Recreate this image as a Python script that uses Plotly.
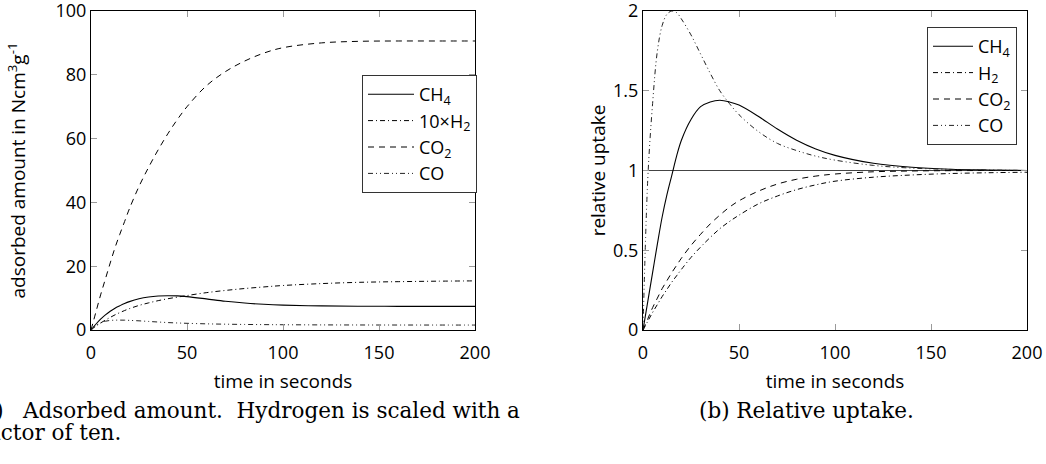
import plotly.graph_objects as go

# time grid in seconds
t = [0, 2.5, 5, 7.5, 10, 12.5, 15, 17.5, 20, 25, 30, 35, 40, 45, 50,
     60, 70, 80, 90, 100, 120, 140, 160, 180, 200]

# adsorbed amount in Ncm^3/g
ch4_amount = [0, 1.8, 3.4, 4.75, 5.9, 6.85, 7.6, 8.3, 8.9, 9.8, 10.35, 10.65, 10.75, 10.7, 10.45,
              9.75, 9.0, 8.45, 8.05, 7.8, 7.55, 7.45, 7.42, 7.4, 7.4]
h2x10_amount = [0, 1.2, 2.2, 3.1, 3.95, 4.75, 5.45, 6.1, 6.7, 7.7, 8.5, 9.2, 9.8, 10.3, 10.8,
                11.7, 12.4, 13.0, 13.5, 13.95, 14.55, 14.95, 15.15, 15.3, 15.4]
co2_amount = [0, 5.5, 11, 16, 21, 25.8, 30, 34, 38, 45, 51, 56.5, 61.5, 66, 70,
              76.5, 81, 84.3, 86.8, 88.5, 90.0, 90.5, 90.6, 90.6, 90.6]
co_amount = [0, 1.45, 2.2, 2.75, 3.0, 3.08, 3.1, 3.08, 3.02, 2.87, 2.68, 2.5, 2.33, 2.2, 2.1,
             1.93, 1.82, 1.74, 1.69, 1.65, 1.6, 1.575, 1.56, 1.555, 1.55]

# relative uptake
ch4_rel = [0, 0.18, 0.36, 0.54, 0.71, 0.85, 0.97, 1.09, 1.19, 1.32, 1.40, 1.43, 1.44, 1.43, 1.41,
           1.34, 1.26, 1.19, 1.135, 1.095, 1.045, 1.02, 1.008, 1.003, 1.0]
h2_rel = [0, 0.055, 0.11, 0.16, 0.21, 0.255, 0.30, 0.34, 0.38, 0.455, 0.52, 0.58, 0.635, 0.68, 0.72,
          0.79, 0.84, 0.88, 0.91, 0.933, 0.958, 0.972, 0.981, 0.986, 0.989]
co2_rel = [0, 0.07, 0.14, 0.20, 0.26, 0.31, 0.36, 0.405, 0.45, 0.53, 0.60, 0.665, 0.72, 0.77, 0.81,
           0.87, 0.915, 0.945, 0.965, 0.978, 0.992, 0.997, 0.999, 1.0, 1.0]
co_rel = [0, 0.95, 1.42, 1.75, 1.91, 1.98, 2.0, 1.99, 1.95, 1.85, 1.73, 1.61, 1.50, 1.42, 1.35,
          1.245, 1.17, 1.125, 1.09, 1.065, 1.032, 1.015, 1.007, 1.003, 1.0]

x_ticks = [0, 50, 100, 150, 200]
amount_ticks = [0, 20, 40, 60, 80, 100]
rel_ticks = [0, 0.5, 1, 1.5, 2]
rel_labels = ["0", "0.5", "1", "1.5", "2"]
ref_level = [1, 1]
ref_t = [0, 200]

SANS = "Open Sans, DejaVu Sans, sans-serif"
SERIF = "DejaVu Serif, serif"
W, H = 1046, 464

styles = {
    "CH4": dict(color="black", width=1.1, dash="solid"),
    "H2": dict(color="black", width=1.0, dash="5px,3px,1px,3px"),
    "CO2": dict(color="black", width=1.0, dash="6px,5px"),
    "CO": dict(color="#222", width=1.0, dash="5px,3px,1px,3px,1px,3px"),
}

fig = go.Figure()

left = [("CH<sub>4</sub>", ch4_amount, "CH4"),
        ("10×H<sub>2</sub>", h2x10_amount, "H2"),
        ("CO<sub>2</sub>", co2_amount, "CO2"),
        ("CO", co_amount, "CO")]
for name, y, key in left:
    fig.add_trace(go.Scatter(x=t, y=y, name=name, mode="lines", line=styles[key],
                             line_shape="spline", xaxis="x", yaxis="y", legend="legend"))

fig.add_trace(go.Scatter(x=ref_t, y=ref_level, mode="lines", showlegend=False,
                         line=dict(color="#444", width=1.2), xaxis="x2", yaxis="y2"))

right = [("CH<sub>4</sub>", ch4_rel, "CH4"),
         ("H<sub>2</sub>", h2_rel, "H2"),
         ("CO<sub>2</sub>", co2_rel, "CO2"),
         ("CO", co_rel, "CO")]
for name, y, key in right:
    fig.add_trace(go.Scatter(x=t, y=y, name=name, mode="lines", line=styles[key],
                             line_shape="spline", xaxis="x2", yaxis="y2", legend="legend2"))

ydom = [(H - 330) / H, (H - 11) / H]
title_font = dict(family=SANS, size=19, color="black")
axis_common = dict(showline=True, linecolor="black", linewidth=1, mirror="ticks",
                   ticks="inside", ticklen=6, tickcolor="#9a9a9a", tickwidth=1,
                   showgrid=False, zeroline=False, ticklabeloverflow="allow",
                   automargin=False,
                   tickfont=dict(family=SANS, size=18, color="black"))

legend_common = dict(xanchor="right", yanchor="top", bgcolor="white",
                     bordercolor="#333", borderwidth=1,
                     font=dict(family=SANS, size=18, color="black"))

fig.update_layout(
    width=W, height=H,
    margin=dict(l=0, r=0, t=0, b=0),
    paper_bgcolor="white", plot_bgcolor="white",
    xaxis=dict(domain=[91 / W, 475 / W], range=[0, 200], tickvals=x_ticks,
               ticklabelstandoff=6,
               title=dict(text="time in seconds", font=title_font, standoff=12),
               anchor="y", **axis_common),
    yaxis=dict(domain=ydom, range=[0, 100], tickvals=amount_ticks,
               title=dict(text="adsorbed amount in Ncm<sup>3</sup>g<sup>-1</sup>",
                          font=title_font, standoff=24),
               anchor="x", **axis_common),
    xaxis2=dict(domain=[643 / W, 1027 / W], range=[0, 200], tickvals=x_ticks,
                ticklabelstandoff=6,
                title=dict(text="time in seconds", font=title_font, standoff=12),
                anchor="y2", **axis_common),
    yaxis2=dict(domain=ydom, range=[0, 2], tickvals=rel_ticks, ticktext=rel_labels,
                title=dict(text="relative uptake", font=title_font, standoff=2),
                anchor="x2", **axis_common),
    legend=dict(x=477 / W, y=(H - 75) / H, itemwidth=46, **legend_common),
    legend2=dict(x=1017 / W, y=(H - 27) / H, itemwidth=40, **legend_common),
)

# sub-figure captions (pixel positions converted to paper coordinates)
captions = [
    dict(x=6, y=410, anchor="right", text="(a)"),
    dict(x=20, y=410, anchor="left",
         text="Adsorbed amount.&nbsp; Hydrogen is scaled with a"),
    dict(x=-22, y=432, anchor="left", text="factor of ten."),
    dict(x=697, y=410, anchor="left", text="(b) Relative uptake."),
]
for c in captions:
    fig.add_annotation(xref="paper", yref="paper", x=c["x"] / W, y=1 - c["y"] / H,
                       text=c["text"], xanchor=c["anchor"], yanchor="middle",
                       showarrow=False,
                       font=dict(family=SERIF, size=21.5, color="black"))

fig.write_html("out.html")
